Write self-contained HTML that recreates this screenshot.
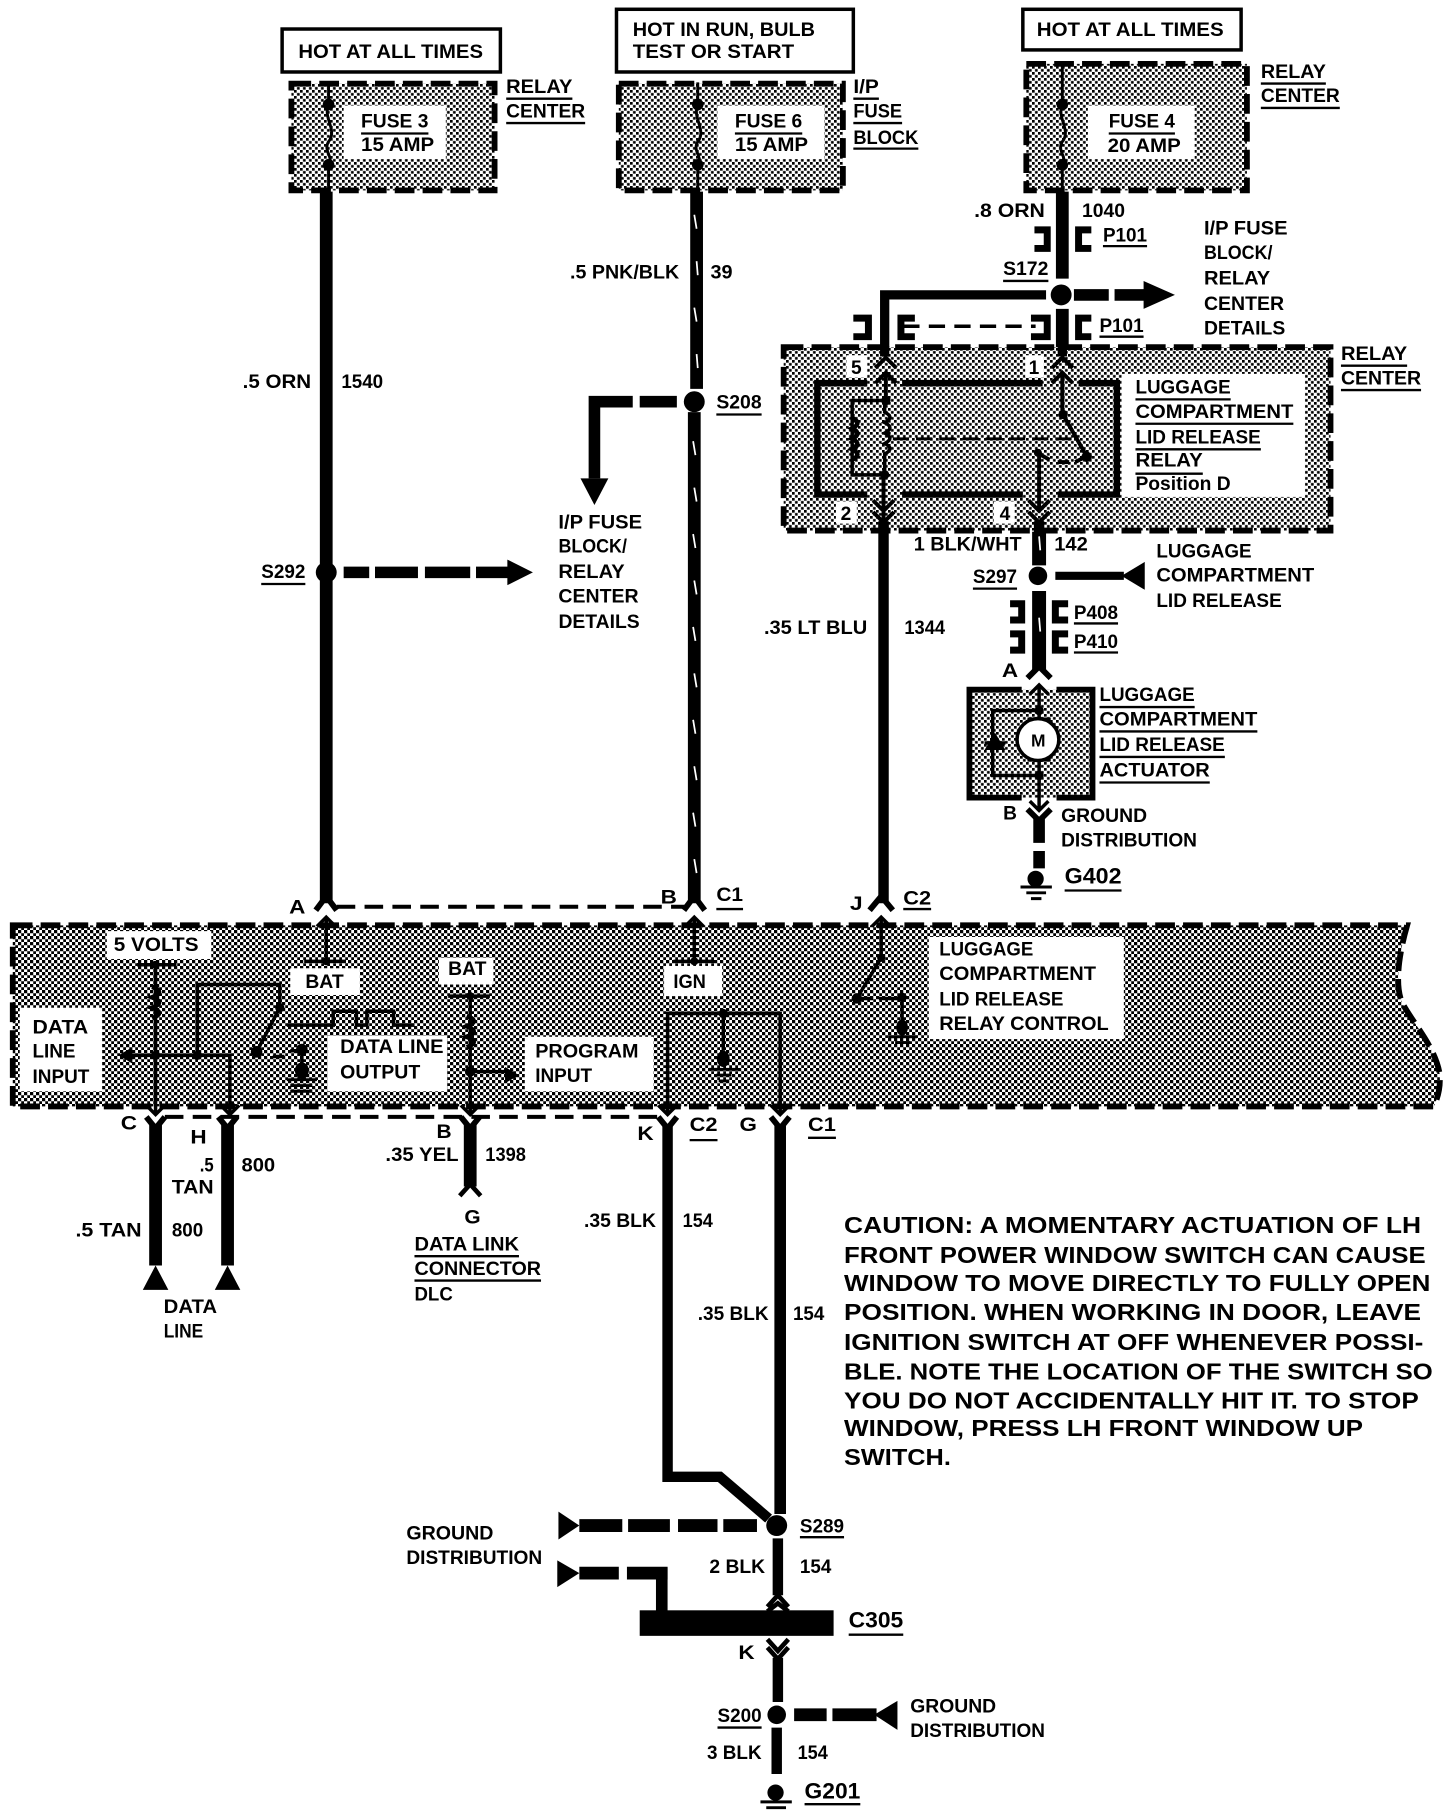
<!DOCTYPE html>
<html><head><meta charset="utf-8"><style>
html,body{margin:0;padding:0;background:#fff}
svg{display:block}
text{font-family:"Liberation Sans",sans-serif;font-weight:bold;font-size:16.5px;fill:#000}
.c{font-size:20px}.b{font-size:19px}.s{font-size:15px}
.w{fill:none;stroke:#000;stroke-linecap:butt;stroke-linejoin:miter}
.box{fill:url(#st2);stroke:#000;stroke-width:5;stroke-dasharray:17 7}
.u{stroke:#000;stroke-width:2}
</style></head><body>
<svg width="1456" height="1820" viewBox="0 0 1456 1820" xmlns="http://www.w3.org/2000/svg">
<defs>
<pattern id="st" width="5.168" height="5.168" patternUnits="userSpaceOnUse"><rect width="5.168" height="5.168" fill="#fff"/><g shape-rendering="crispEdges"><rect width="2.584" height="2.584" fill="#000"/><rect x="2.584" y="2.584" width="2.584" height="2.584" fill="#000"/></g></pattern>
<pattern id="st2" width="5.168" height="5.168" patternUnits="userSpaceOnUse"><rect width="5.168" height="5.168" fill="#fff"/><rect width="2.3" height="2.3" fill="#000"/><rect x="2.584" y="2.584" width="2.3" height="2.3" fill="#000"/></pattern>
</defs>
<g transform="scale(1.161)">
<!-- top boxes -->
<g fill="#fff" stroke="#000" stroke-width="3"><rect x="243" y="25" width="188" height="37"/><rect x="531" y="8" width="204" height="54"/><rect x="881" y="8" width="188" height="35"/></g>
<text x="257" y="50" textLength="159" lengthAdjust="spacingAndGlyphs">HOT AT ALL TIMES</text>
<text x="545" y="31" textLength="157" lengthAdjust="spacingAndGlyphs">HOT IN RUN, BULB</text>
<text x="545" y="50" textLength="139" lengthAdjust="spacingAndGlyphs">TEST OR START</text>
<text x="893" y="31" textLength="161" lengthAdjust="spacingAndGlyphs">HOT AT ALL TIMES</text>
<!-- fuse boxes -->
<rect class="box" x="251" y="72" width="175" height="92"/><rect class="box" x="533" y="72" width="193" height="92"/><rect class="box" x="884" y="55" width="190" height="109"/>
<g fill="#fff"><rect x="296" y="91" width="88" height="46"/><rect x="618" y="91" width="92" height="46"/><rect x="937" y="91" width="92" height="46"/></g>
<g class="w" stroke-width="2.5" style="fill:none"><path d="M283 71V90C278 102 291 112 283 122C278 130 288 136 283 142V165"/><path d="M601 71V90C596 102 609 112 601 122C596 130 606 136 601 142V165"/><path d="M915 55V90C910 102 923 112 915 122C910 130 920 136 915 142V165"/></g>
<g><circle cx="283" cy="90" r="5"/><circle cx="283" cy="142" r="5"/><circle cx="601" cy="90" r="5"/><circle cx="601" cy="142" r="5"/><circle cx="915" cy="90" r="5"/><circle cx="915" cy="142" r="5"/></g>
<text x="311" y="110" textLength="58" lengthAdjust="spacingAndGlyphs">FUSE 3</text><path class="u" d="M311 115H369"/><text x="311" y="130" textLength="63" lengthAdjust="spacingAndGlyphs">15 AMP</text>
<text x="633" y="110" textLength="58" lengthAdjust="spacingAndGlyphs">FUSE 6</text><path class="u" d="M633 115H691"/><text x="633" y="130" textLength="63" lengthAdjust="spacingAndGlyphs">15 AMP</text>
<text x="955" y="110" textLength="57" lengthAdjust="spacingAndGlyphs">FUSE 4</text><path class="u" d="M955 115H1012"/><text x="954" y="131" textLength="63" lengthAdjust="spacingAndGlyphs">20 AMP</text>
<text x="436" y="80" textLength="57" lengthAdjust="spacingAndGlyphs">RELAY</text><path class="u" d="M436 85H493"/><text x="436" y="101" textLength="68" lengthAdjust="spacingAndGlyphs">CENTER</text><path class="u" d="M436 106H504"/>
<text x="735" y="80" textLength="22" lengthAdjust="spacingAndGlyphs">I/P</text><path class="u" d="M735 85H757"/><text x="735" y="101" textLength="42" lengthAdjust="spacingAndGlyphs">FUSE</text><path class="u" d="M735 106H777"/><text x="735" y="124" textLength="56" lengthAdjust="spacingAndGlyphs">BLOCK</text><path class="u" d="M735 128H791"/>
<text x="1086" y="67" textLength="56" lengthAdjust="spacingAndGlyphs">RELAY</text><path class="u" d="M1086 72H1142"/><text x="1086" y="88" textLength="68" lengthAdjust="spacingAndGlyphs">CENTER</text><path class="u" d="M1086 93H1154"/>
<!-- PCM box -->
<path d="M11 797H1212C1204 825 1202 848 1207 862C1214 878 1236 900 1240 925C1241 938 1238 946 1235 953H11Z" fill="url(#st)" stroke="#000" stroke-width="5" stroke-dasharray="17 7"/>
<g fill="#fff"><rect x="92" y="802" width="90" height="24"/><rect x="250" y="834" width="60" height="23"/><rect x="378" y="825" width="47" height="23"/><rect x="572" y="832" width="50" height="26"/><rect x="800" y="807" width="168" height="88"/><rect x="17" y="868" width="71" height="72"/><rect x="282" y="892" width="103" height="48"/><rect x="452" y="893" width="111" height="47"/></g>
<!-- main wires -->
<g class="w" stroke-width="11"><path d="M281 165V778"/><path d="M600 165V335"/><path d="M598 355V778"/><path d="M915 165V240"/><path d="M915 266V305"/></g>
<g stroke="#fff" stroke-width="1.5"><path d="M598 185l2 12M600 225l1 12M598 265l2 12M600 305l1 12M597 380l2 12M598 420l2 12M597 460l2 12M598 500l2 12M597 540l2 12M598 580l2 12M597 620l2 12M598 660l2 12M597 700l2 12M598 740l2 12"/></g>
<text x="209" y="334" textLength="59" lengthAdjust="spacingAndGlyphs">.5 ORN</text><text x="294" y="334" textLength="36" lengthAdjust="spacingAndGlyphs">1540</text>
<text x="491" y="240" textLength="94" lengthAdjust="spacingAndGlyphs">.5 PNK/BLK</text><text x="612" y="240" textLength="19" lengthAdjust="spacingAndGlyphs">39</text>
<!-- S208 -->
<circle cx="598" cy="346" r="9"/><text x="617" y="352" textLength="39" lengthAdjust="spacingAndGlyphs">S208</text><path class="u" d="M617 357H656"/>
<path class="w" stroke-width="10" d="M583 346H551M545 346H512V412"/><path d="M500 412H524L512 435Z"/>
<text x="481" y="455" textLength="72" lengthAdjust="spacingAndGlyphs">I/P FUSE</text><text x="481" y="476" textLength="59" lengthAdjust="spacingAndGlyphs">BLOCK/</text><text x="481" y="498" textLength="57" lengthAdjust="spacingAndGlyphs">RELAY</text><text x="481" y="519" textLength="69" lengthAdjust="spacingAndGlyphs">CENTER</text><text x="481" y="541" textLength="70" lengthAdjust="spacingAndGlyphs">DETAILS</text>
<!-- S292 -->
<circle cx="281" cy="493" r="9"/><text x="225" y="498" textLength="38" lengthAdjust="spacingAndGlyphs">S292</text><path class="u" d="M225 503H263"/>
<path class="w" stroke-width="10" d="M296 493H318M323 493H360M366 493H405M410 493H438"/><path d="M437 482L459 493L437 504Z"/>
<!-- top right -->
<text x="839" y="187" textLength="61" lengthAdjust="spacingAndGlyphs">.8 ORN</text><text x="932" y="187" textLength="37" lengthAdjust="spacingAndGlyphs">1040</text>
<g class="w" stroke-width="6"><path d="M891 198H902V214H891"/><path d="M940 198H929V214H940"/><path d="M735 274H748V290H735"/><path d="M788 274H776V290H788"/><path d="M888 274H902V290H888"/><path d="M940 274H929V290H940"/></g>
<text x="950" y="208" textLength="38" lengthAdjust="spacingAndGlyphs">P101</text><path class="u" d="M950 212H988"/>
<text x="947" y="286" textLength="38" lengthAdjust="spacingAndGlyphs">P101</text><path class="u" d="M947 290H985"/>
<text x="864" y="237" textLength="39" lengthAdjust="spacingAndGlyphs">S172</text><path class="u" d="M864 242H903"/>
<circle cx="914" cy="254" r="9"/>
<path class="w" stroke-width="8" d="M901 254H762V305"/><path class="w" stroke-width="10" d="M925 254H955M960 254H986"/><path d="M985 242L1012 254L985 266Z"/>
<path class="w" stroke-width="3" stroke-dasharray="14 8" d="M778 281H892"/>
<text x="1037" y="202" textLength="72" lengthAdjust="spacingAndGlyphs">I/P FUSE</text><text x="1037" y="223" textLength="59" lengthAdjust="spacingAndGlyphs">BLOCK/</text><text x="1037" y="245" textLength="57" lengthAdjust="spacingAndGlyphs">RELAY</text><text x="1037" y="267" textLength="69" lengthAdjust="spacingAndGlyphs">CENTER</text><text x="1037" y="288" textLength="70" lengthAdjust="spacingAndGlyphs">DETAILS</text>
<!-- relay center -->
<rect class="box" x="675" y="299" width="471" height="158"/>
<path class="w" stroke-width="8" d="M762 298V307M915 298V307"/>
<rect x="966" y="322" width="158" height="106" fill="#fff"/>
<path class="w" stroke-width="5.5" d="M747 330H704V426H747M777 330H898M929 330H962V426H911M881 426H777"/>
<g class="w" stroke-width="3.4"><path d="M754 317L763 308L772 317M754 330L763 321L772 330M763 321V345M906 317L915 308L924 317M906 330L915 321L924 330M915 321V356L936 393M752 431L761 440L770 431M752 441L761 450L770 441M761 409V450M886 431L895 440L904 431M886 441L895 450L904 441M895 391V440M895 391L904 396M911 398H921M926 398L936 393"/></g>
<g class="w" stroke-width="3"><path d="M763 345H734V409H763"/><path d="M734 360c6 3 6 6 0 9c6 3 6 6 0 9c6 3 6 6 0 9c6 3 6 6 0 9" stroke-width="4"/><path d="M762 345V355c6 3 6 6 0 9c6 3 6 6 0 9c6 3 6 6 0 9c6 3 6 6 0 9V409"/></g>
<path class="w" stroke-width="2.5" stroke-dasharray="14 6" d="M769 378H927"/>
<circle cx="763" cy="345" r="4"/><circle cx="762" cy="409" r="4"/><circle cx="915.7" cy="357" r="4"/><circle cx="936" cy="393.500" r="4.5"/><circle cx="894" cy="390" r="3.5"/>
<path class="w" stroke-width="9" d="M761 449V459M895 449V459"/>
<g fill="#fff"><rect x="729" y="306" width="18" height="19"/><rect x="883" y="306" width="16" height="19"/><rect x="720" y="432" width="18" height="19"/><rect x="856" y="432" width="18" height="19"/></g>
<text x="733" y="322">5</text><text x="886" y="322">1</text><text x="724" y="448">2</text><text x="861" y="448">4</text>
<text x="978" y="339" textLength="82" lengthAdjust="spacingAndGlyphs">LUGGAGE</text><path class="u" d="M978 344H1060"/><text x="978" y="360" textLength="136" lengthAdjust="spacingAndGlyphs">COMPARTMENT</text><path class="u" d="M978 365H1114"/><text x="978" y="382" textLength="108" lengthAdjust="spacingAndGlyphs">LID RELEASE</text><path class="u" d="M978 387H1086"/><text x="978" y="402" textLength="58" lengthAdjust="spacingAndGlyphs">RELAY</text><path class="u" d="M978 408H1036"/><text x="978" y="422" textLength="82" lengthAdjust="spacingAndGlyphs">Position D</text>
<text x="1155" y="310" textLength="57" lengthAdjust="spacingAndGlyphs">RELAY</text><path class="u" d="M1155 315H1212"/><text x="1155" y="331" textLength="69" lengthAdjust="spacingAndGlyphs">CENTER</text><path class="u" d="M1155 336H1224"/>
<!-- below relay -->
<path class="w" stroke-width="9" d="M761 452V778"/><text x="658" y="546" textLength="89" lengthAdjust="spacingAndGlyphs">.35 LT BLU</text><text x="779" y="546" textLength="35" lengthAdjust="spacingAndGlyphs">1344</text>
<path class="w" stroke-width="12" d="M895 458V487M895 509V577"/><path stroke="#fff" stroke-width="1.5" d="M895 462l1 12M895 532l1 12"/>
<text x="787" y="474" textLength="93" lengthAdjust="spacingAndGlyphs">1 BLK/WHT</text><text x="908" y="474" textLength="29" lengthAdjust="spacingAndGlyphs">142</text>
<circle cx="894" cy="496" r="8"/><text x="838" y="502" textLength="38" lengthAdjust="spacingAndGlyphs">S297</text><path class="u" d="M838 507H876"/>
<path class="w" stroke-width="7" d="M909 496H968"/><path d="M986 484V508L966 496Z"/>
<text x="996" y="480" textLength="82" lengthAdjust="spacingAndGlyphs">LUGGAGE</text><text x="996" y="501" textLength="136" lengthAdjust="spacingAndGlyphs">COMPARTMENT</text><text x="996" y="523" textLength="108" lengthAdjust="spacingAndGlyphs">LID RELEASE</text>
<g class="w" stroke-width="6"><path d="M870 520H880V534H870"/><path d="M920 520H909V534H920"/><path d="M870 546H880V560H870"/><path d="M920 546H909V560H920"/></g>
<text x="925" y="533" textLength="38" lengthAdjust="spacingAndGlyphs">P408</text><path class="u" d="M925 537H963"/><text x="925" y="558" textLength="38" lengthAdjust="spacingAndGlyphs">P410</text><path class="u" d="M925 562H963"/>
<text x="863" y="583" textLength="14" lengthAdjust="spacingAndGlyphs">A</text>
<path class="w" stroke-width="5" d="M885 584L895 574L905 584"/>
<!-- actuator -->
<rect x="835" y="594" width="106" height="93" fill="url(#st2)"/>
<path class="w" stroke-width="5" d="M880 594H835V687H880M910 594H941V687H910"/>
<g class="w" stroke-width="3"><path d="M887 598L895 590L903 598M895 590V619M855 661V612H895M895 655V698M855 661V668H895M887 690L895 698L903 690"/><path d="M848 640H866"/></g>
<rect x="885" y="618" width="20" height="4" /><rect x="885" y="652" width="20" height="4"/>
<circle cx="894" cy="637" r="18" fill="#fff" stroke="#000" stroke-width="3"/><text x="888" y="643" class="s">M</text>
<path d="M848 646H866L857 631Z"/><circle cx="895" cy="612" r="4"/><circle cx="895" cy="668" r="4"/>
<text x="947" y="604" textLength="82" lengthAdjust="spacingAndGlyphs">LUGGAGE</text><path class="u" d="M947 609H1029"/><text x="947" y="625" textLength="136" lengthAdjust="spacingAndGlyphs">COMPARTMENT</text><path class="u" d="M947 630H1083"/><text x="947" y="647" textLength="108" lengthAdjust="spacingAndGlyphs">LID RELEASE</text><path class="u" d="M947 652H1055"/><text x="947" y="669" textLength="95" lengthAdjust="spacingAndGlyphs">ACTUATOR</text><path class="u" d="M947 674H1042"/>
<text x="864" y="706">B</text>
<path class="w" stroke-width="5" d="M885 697L895 707L905 697"/><path class="w" stroke-width="10" d="M895 705V726M895 733V748"/>
<text x="914" y="708" textLength="74" lengthAdjust="spacingAndGlyphs">GROUND</text><text x="914" y="729" textLength="117" lengthAdjust="spacingAndGlyphs">DISTRIBUTION</text>
<circle cx="892" cy="757" r="7"/><path class="w" stroke-width="2.5" d="M879 764H906M884 769H901M888 774H897"/>
<text x="917" y="761" class="b" textLength="49" lengthAdjust="spacingAndGlyphs">G402</text><path class="u" d="M917 767H966"/>
<!-- row above PCM -->
<path class="w" stroke-width="3.5" stroke-dasharray="16 8" d="M290 781H590"/>
<g class="w" stroke-width="5"><path d="M272 784L281 772L290 784M589 784L598 772L607 784M749 784L759 772L769 784"/></g>
<text x="249" y="787" textLength="14" lengthAdjust="spacingAndGlyphs">A</text><text x="569" y="778" textLength="14" lengthAdjust="spacingAndGlyphs">B</text><text x="617" y="776" textLength="23" lengthAdjust="spacingAndGlyphs">C1</text><path class="u" d="M617 783H640"/><text x="732" y="784" textLength="11" lengthAdjust="spacingAndGlyphs">J</text><text x="778" y="779" textLength="24" lengthAdjust="spacingAndGlyphs">C2</text><path class="u" d="M778 783H802"/>
<g class="w" stroke-width="3"><path d="M273 798L281 790L289 798M281 790V828M262 828H298M590 798L598 790L606 798M598 790V828M580 828H615M751 798L759 790L767 798M759 790V825L738 860M742 860H752M757 860H777V885"/></g>
<circle cx="281" cy="828" r="3.5"/><circle cx="598" cy="828" r="3.5"/><circle cx="759" cy="825" r="3.5"/><circle cx="738" cy="860" r="4.5"/><circle cx="777" cy="859" r="4"/><ellipse cx="777" cy="885" rx="5" ry="7"/><path class="w" stroke-width="2.5" d="M765 893H790M771 898H784"/>
<!-- PCM labels -->
<text x="98" y="819" textLength="73" lengthAdjust="spacingAndGlyphs">5 VOLTS</text><text x="263" y="851" textLength="33" lengthAdjust="spacingAndGlyphs">BAT</text><text x="386" y="840" textLength="33" lengthAdjust="spacingAndGlyphs">BAT</text><text x="580" y="851" textLength="28" lengthAdjust="spacingAndGlyphs">IGN</text>
<text x="809" y="823" textLength="81" lengthAdjust="spacingAndGlyphs">LUGGAGE</text><text x="809" y="844" textLength="135" lengthAdjust="spacingAndGlyphs">COMPARTMENT</text><text x="809" y="866" textLength="107" lengthAdjust="spacingAndGlyphs">LID RELEASE</text><text x="809" y="887" textLength="146" lengthAdjust="spacingAndGlyphs">RELAY CONTROL</text>
<text x="28" y="890" textLength="48" lengthAdjust="spacingAndGlyphs">DATA</text><text x="28" y="911" textLength="37" lengthAdjust="spacingAndGlyphs">LINE</text><text x="28" y="933" textLength="49" lengthAdjust="spacingAndGlyphs">INPUT</text>
<text x="293" y="907" textLength="89" lengthAdjust="spacingAndGlyphs">DATA LINE</text><text x="293" y="929" textLength="69" lengthAdjust="spacingAndGlyphs">OUTPUT</text>
<text x="461" y="911" textLength="89" lengthAdjust="spacingAndGlyphs">PROGRAM</text><text x="461" y="932" textLength="49" lengthAdjust="spacingAndGlyphs">INPUT</text>
<!-- PCM internals -->
<g class="w" stroke-width="3"><path d="M118 831H152M134 831V960M126 952L134 960L142 952M110 909H198V960M190 952L198 960L206 952M170 909V848H241V868L221 906M235 910H245M250 905H260V922"/><path d="M247 883H287V871H307V883H316V871H339V883H357"/><path d="M386 858H422M405 858V960M397 952L405 960L413 952M405 923H437"/><path d="M575 960V873H672V960M567 952L575 960L583 952M664 952L672 960L680 952M623 873V905"/></g>
<path class="w" stroke-width="4" d="M131 850c8 3 8 6 0 9c8 3 8 6 0 9c8 3 8 6 0 9M402 875c8 3 8 6 0 9c8 3 8 6 0 9c8 3 8 6 0 9"/>
<path d="M102 909L114 902V916Z"/><path d="M435 919L447 926L435 933Z"/>
<circle cx="134" cy="831" r="3.5"/><circle cx="134" cy="909" r="4"/><circle cx="170" cy="909" r="4"/><circle cx="241" cy="868" r="4"/><circle cx="221" cy="906" r="5"/><circle cx="260" cy="904" r="5"/><circle cx="405" cy="858" r="3.5"/><circle cx="405" cy="923" r="4.5"/><circle cx="623" cy="873" r="4"/>
<ellipse cx="260" cy="922" rx="6" ry="7"/><path class="w" stroke-width="2.5" d="M247 930H273M250 935H269M250 940H269"/>
<ellipse cx="623" cy="912" rx="5.5" ry="7"/><path class="w" stroke-width="2.5" d="M611 921H636M617 926H630M619 931H628"/>
<!-- row below -->
<path class="w" stroke-width="3.5" stroke-dasharray="16 8" d="M142 962H570"/>
<g class="w" stroke-width="5"><path d="M126 962L134 972L142 962M188 962L196 972L204 962M397 962L405 972L413 962M567 962L575 972L583 962M664 962L672 972L680 962"/></g>
<g class="w"><path stroke-width="11" d="M134 968V1090M196 968V1090M405 968V1022"/><path stroke-width="9" d="M575 968V1272H620L662 1308"/><path stroke-width="10" d="M672 968V1304"/></g>
<path class="w" stroke-width="4" d="M396 1030L405 1020L414 1030"/>
<text x="104" y="973" textLength="14" lengthAdjust="spacingAndGlyphs">C</text><text x="164" y="985" textLength="14" lengthAdjust="spacingAndGlyphs">H</text><text x="376" y="980" textLength="13" lengthAdjust="spacingAndGlyphs">B</text><text x="549" y="982" textLength="14" lengthAdjust="spacingAndGlyphs">K</text><text x="594" y="974" textLength="24" lengthAdjust="spacingAndGlyphs">C2</text><path class="u" d="M594 982H618"/><text x="637" y="974" textLength="15" lengthAdjust="spacingAndGlyphs">G</text><text x="696" y="974" textLength="24" lengthAdjust="spacingAndGlyphs">C1</text><path class="u" d="M696 980H720"/>
<path d="M123 1111L134 1090L145 1111ZM185 1111L196 1090L207 1111Z"/>
<text x="172" y="1009" textLength="12" lengthAdjust="spacingAndGlyphs">.5</text><text x="148" y="1028" textLength="36" lengthAdjust="spacingAndGlyphs">TAN</text><text x="208" y="1009" textLength="29" lengthAdjust="spacingAndGlyphs">800</text><text x="65" y="1065" textLength="57" lengthAdjust="spacingAndGlyphs">.5 TAN</text><text x="148" y="1065" textLength="27" lengthAdjust="spacingAndGlyphs">800</text><text x="141" y="1131" textLength="46" lengthAdjust="spacingAndGlyphs">DATA</text><text x="141" y="1152" textLength="34" lengthAdjust="spacingAndGlyphs">LINE</text>
<text x="332" y="1000" textLength="63" lengthAdjust="spacingAndGlyphs">.35 YEL</text><text x="418" y="1000" textLength="35" lengthAdjust="spacingAndGlyphs">1398</text><text x="400" y="1054" textLength="14" lengthAdjust="spacingAndGlyphs">G</text>
<text x="357" y="1077" textLength="90" lengthAdjust="spacingAndGlyphs">DATA LINK</text><path class="u" d="M357 1082H447"/><text x="357" y="1098" textLength="109" lengthAdjust="spacingAndGlyphs">CONNECTOR</text><path class="u" d="M357 1103H466"/><text x="357" y="1120" textLength="33" lengthAdjust="spacingAndGlyphs">DLC</text>
<text x="503" y="1057" textLength="62" lengthAdjust="spacingAndGlyphs">.35 BLK</text><text x="588" y="1057" textLength="26" lengthAdjust="spacingAndGlyphs">154</text><text x="601" y="1137" textLength="61" lengthAdjust="spacingAndGlyphs">.35 BLK</text><text x="683" y="1137" textLength="27" lengthAdjust="spacingAndGlyphs">154</text>
<!-- caution -->
<g class="c"><text class="c" x="727" y="1062" textLength="497" lengthAdjust="spacingAndGlyphs">CAUTION: A MOMENTARY ACTUATION OF LH</text><text class="c" x="727" y="1088" textLength="501" lengthAdjust="spacingAndGlyphs">FRONT POWER WINDOW SWITCH CAN CAUSE</text><text class="c" x="727" y="1112" textLength="505" lengthAdjust="spacingAndGlyphs">WINDOW TO MOVE DIRECTLY TO FULLY OPEN</text><text class="c" x="727" y="1137" textLength="497" lengthAdjust="spacingAndGlyphs">POSITION. WHEN WORKING IN DOOR, LEAVE</text><text class="c" x="727" y="1163" textLength="499" lengthAdjust="spacingAndGlyphs">IGNITION SWITCH AT OFF WHENEVER POSSI-</text><text class="c" x="727" y="1188" textLength="507" lengthAdjust="spacingAndGlyphs">BLE. NOTE THE LOCATION OF THE SWITCH SO</text><text class="c" x="727" y="1213" textLength="495" lengthAdjust="spacingAndGlyphs">YOU DO NOT ACCIDENTALLY HIT IT. TO STOP</text><text class="c" x="727" y="1237" textLength="447" lengthAdjust="spacingAndGlyphs">WINDOW, PRESS LH FRONT WINDOW UP</text><text class="c" x="727" y="1262" textLength="92" lengthAdjust="spacingAndGlyphs">SWITCH.</text></g>
<!-- bottom -->
<circle cx="669" cy="1314" r="9"/><text x="689" y="1320" textLength="38" lengthAdjust="spacingAndGlyphs">S289</text><path class="u" d="M689 1324H727"/>
<path d="M481 1302L499 1314L481 1326Z"/><path class="w" stroke-width="11" d="M499 1314H536M541 1314H577M584 1314H618M623 1314H652"/>
<path d="M480 1344L499 1355L480 1367Z"/><path class="w" stroke-width="11" d="M499 1355H533M540 1355H575"/><path class="w" stroke-width="10" d="M570 1350V1390"/>
<text x="350" y="1326" textLength="75" lengthAdjust="spacingAndGlyphs">GROUND</text><text x="350" y="1347" textLength="117" lengthAdjust="spacingAndGlyphs">DISTRIBUTION</text>
<rect x="551" y="1387" width="167" height="22"/><text x="731" y="1402" class="b" textLength="47" lengthAdjust="spacingAndGlyphs">C305</text><path class="u" d="M731 1408H778"/>
<path class="w" stroke-width="9" d="M670 1325V1374M670 1428V1466M669 1488V1528"/>
<text x="611" y="1355" textLength="48" lengthAdjust="spacingAndGlyphs">2 BLK</text><text x="689" y="1355" textLength="27" lengthAdjust="spacingAndGlyphs">154</text>
<path class="w" stroke-width="4" d="M661 1384L670 1374L679 1384M661 1388L670 1381L679 1388M661 1412L670 1422L679 1412M661 1419L670 1429L679 1419"/>
<text x="636" y="1429" textLength="14" lengthAdjust="spacingAndGlyphs">K</text>
<circle cx="669" cy="1477" r="8"/><text x="618" y="1483" textLength="38" lengthAdjust="spacingAndGlyphs">S200</text><path class="u" d="M618 1488H656"/>
<path class="w" stroke-width="11" d="M684 1477H712M717 1477H755"/><path d="M773 1465V1490L753 1477Z"/>
<text x="784" y="1475" textLength="74" lengthAdjust="spacingAndGlyphs">GROUND</text><text x="784" y="1496" textLength="116" lengthAdjust="spacingAndGlyphs">DISTRIBUTION</text>
<text x="609" y="1515" textLength="47" lengthAdjust="spacingAndGlyphs">3 BLK</text><text x="687" y="1515" textLength="26" lengthAdjust="spacingAndGlyphs">154</text>
<circle cx="668" cy="1544" r="7"/><path class="w" stroke-width="2.5" d="M655 1552H682M660 1557H677"/>
<text x="693" y="1549" class="b" textLength="48" lengthAdjust="spacingAndGlyphs">G201</text><path class="u" d="M693 1554H741"/>
</g>
</svg>
</body></html>
